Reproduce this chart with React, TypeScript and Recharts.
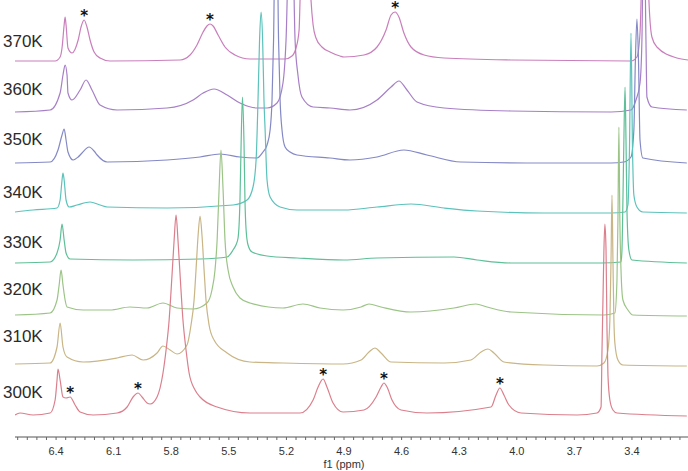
import React from 'react';
import { LineChart, Line, XAxis, YAxis, ReferenceDot } from 'recharts';

// stacked 1H NMR spectra, [ppm, intensity above own baseline]
const temps = ['370K', '360K', '350K', '340K', '330K', '320K', '310K', '300K'];
const baselines = [376, 325, 274, 225, 174, 122, 73, 22];
const colors = ['#c97fbc', '#a67fc6', '#8489c6', '#5cc2bb', '#5fbf98', '#9cc487', '#c9b585', '#db7f8c'];
const labelY = [47, 95, 145, 198, 248, 295, 342, 398];

const s370 = [
  [6.614, 0], [6.405, 0], [6.379, 4], [6.369, 13], [6.358, 36], [6.353, 44], [6.348, 36], [6.338, 13],
  [6.317, 8], [6.285, 21], [6.27, 34], [6.254, 41], [6.239, 34], [6.223, 21], [6.202, 9], [6.171, 3],
  [6.119, 0], [5.754, 1], [5.702, 6], [5.666, 16], [5.634, 29], [5.614, 35], [5.598, 37], [5.582, 35],
  [5.556, 26], [5.52, 14], [5.468, 6], [5.39, 2], [5.207, 2], [5.171, 5], [5.15, 13], [5.134, 31],
  [5.129, 61], [5.103, 261], [5.072, 61], [5.061, 36], [5.046, 23], [5.015, 14], [4.973, 9], [4.921, 5],
  [4.9, 4], [4.796, 6], [4.728, 14], [4.681, 31], [4.655, 46], [4.634, 49], [4.614, 44], [4.588, 28],
  [4.551, 14], [4.483, 6], [4.379, 3], [4.03, 1], [3.405, 0], [3.374, 4], [3.358, 28], [3.332, 211],
  [3.311, 58], [3.296, 24], [3.27, 14], [3.166, 3], [3.108, 1],
];
const s360 = [
  [6.614, 0], [6.431, 2], [6.379, 19], [6.364, 37], [6.353, 47], [6.343, 37], [6.338, 19], [6.317, 12],
  [6.275, 22], [6.244, 32], [6.213, 22], [6.171, 7], [6.082, 2], [5.822, 4], [5.686, 12], [5.634, 19],
  [5.577, 23], [5.509, 17], [5.442, 9], [5.353, 4], [5.301, 4], [5.249, 9], [5.218, 29], [5.202, 72],
  [5.176, 262], [5.155, 72], [5.14, 37], [5.119, 15], [5.061, 5], [4.973, 4], [4.869, 2], [4.728, 12],
  [4.655, 25], [4.614, 31], [4.572, 22], [4.52, 10], [4.379, 4], [4.03, 1], [3.509, 0], [3.405, 2],
  [3.379, 12], [3.358, 29], [3.348, 72], [3.338, 212], [3.327, 72], [3.322, 15], [3.296, 5], [3.114, 2],
];
const s350 = [
  [6.614, 0], [6.431, 1], [6.39, 13], [6.369, 28], [6.358, 34], [6.348, 23], [6.338, 11], [6.311, 3],
  [6.285, 6], [6.265, 10], [6.228, 16], [6.202, 12], [6.186, 8], [6.134, 1], [5.822, 3], [5.65, 6],
  [5.546, 9], [5.442, 6], [5.353, 5], [5.322, 11], [5.301, 18], [5.285, 33], [5.275, 63], [5.267, 123],
  [5.254, 313], [5.241, 123], [5.233, 63], [5.223, 33], [5.207, 16], [5.181, 11], [5.145, 8], [4.973, 5],
  [4.869, 3], [4.728, 6], [4.588, 13], [4.468, 8], [4.291, 1], [3.858, 0], [3.509, 0], [3.442, 1],
  [3.405, 6], [3.39, 33], [3.382, 103], [3.374, 144], [3.366, 103], [3.358, 23], [3.343, 5], [3.114, 0],
];
const s340 = [
  [6.614, 0], [6.52, 2], [6.395, 4], [6.379, 12], [6.369, 32], [6.364, 39], [6.358, 32], [6.348, 12],
  [6.332, 5], [6.291, 7], [6.223, 10], [6.171, 7], [6.134, 5], [5.822, 4], [5.478, 7], [5.405, 12],
  [5.374, 25], [5.358, 52], [5.348, 112], [5.34, 172], [5.332, 200], [5.324, 172], [5.317, 112], [5.311, 82],
  [5.301, 32], [5.285, 15], [5.233, 5], [5.145, 2], [4.9, 2], [4.728, 5], [4.551, 8], [4.379, 4],
  [4.207, 1], [3.858, -1], [3.509, -1], [3.436, 0], [3.421, 7], [3.413, 62], [3.405, 179], [3.397, 62],
  [3.39, 17], [3.374, 5], [3.343, 0], [3.114, -1],
];
const s330 = [
  [6.614, 0], [6.431, 1], [6.395, 10], [6.379, 23], [6.369, 39], [6.358, 23], [6.348, 10], [6.327, 4],
  [5.999, 3], [5.65, 4], [5.509, 6], [5.478, 13], [5.463, 18], [5.452, 25], [5.442, 63], [5.436, 120],
  [5.429, 166], [5.421, 120], [5.416, 63], [5.41, 33], [5.4, 18], [5.379, 11], [5.301, 7], [5.145, 5],
  [4.9, 3], [4.728, 5], [4.327, 6], [4.207, 3], [4.03, 0], [3.561, 0], [3.457, 1], [3.452, 13],
  [3.447, 63], [3.442, 123], [3.436, 176], [3.431, 123], [3.426, 53], [3.416, 13], [3.4, 3], [3.114, 0],
];
const s320 = [
  [6.614, 0], [6.431, 2], [6.395, 15], [6.384, 30], [6.374, 45], [6.364, 30], [6.353, 15], [6.343, 8],
  [6.259, 5], [6.119, 5], [6.015, 8], [5.926, 7], [5.843, 12], [5.77, 7], [5.686, 6], [5.614, 12],
  [5.588, 25], [5.572, 45], [5.561, 75], [5.551, 125], [5.541, 165], [5.53, 125], [5.52, 75], [5.504, 45],
  [5.478, 28], [5.442, 17], [5.39, 12], [5.218, 7], [5.114, 11], [5.025, 7], [4.905, 5], [4.811, 8],
  [4.77, 11], [4.707, 8], [4.551, 3], [4.327, 7], [4.213, 11], [4.155, 8], [4.03, 3], [3.546, 0],
  [3.489, 2], [3.478, 35], [3.473, 95], [3.468, 188], [3.463, 95], [3.457, 45], [3.447, 15], [3.421, 5],
  [3.395, 0], [3.114, -1],
];
const s310 = [
  [6.614, 0], [6.431, 1], [6.395, 17], [6.379, 41], [6.364, 17], [6.343, 7], [6.259, 2], [6.082, 6],
  [6.004, 9], [5.947, 4], [5.874, 11], [5.843, 18], [5.806, 14], [5.77, 10], [5.718, 19], [5.697, 39],
  [5.681, 64], [5.671, 94], [5.66, 129], [5.65, 148], [5.64, 129], [5.629, 94], [5.619, 64], [5.603, 39],
  [5.577, 24], [5.509, 11], [5.39, 2], [5.218, 1], [4.905, 0], [4.811, 4], [4.77, 12], [4.739, 16],
  [4.707, 11], [4.655, 2], [4.379, 1], [4.239, 4], [4.186, 12], [4.15, 15], [4.119, 11], [4.067, 2],
  [3.858, -1], [3.582, -2], [3.546, 1], [3.525, 14], [3.515, 44], [3.509, 104], [3.504, 169], [3.499, 104],
  [3.494, 44], [3.489, 21], [3.473, 4], [3.447, -1], [3.114, -2],
];
const s300 = [
  [6.614, 0], [6.588, 2], [6.52, 0], [6.431, 2], [6.405, 15], [6.395, 35], [6.39, 46], [6.379, 35],
  [6.364, 18], [6.348, 17], [6.327, 18], [6.301, 10], [6.275, 3], [6.207, 0], [6.082, 2], [6.03, 8],
  [5.999, 18], [5.973, 22], [5.952, 18], [5.926, 12], [5.91, 11], [5.874, 18], [5.843, 42], [5.827, 65],
  [5.811, 95], [5.796, 140], [5.785, 175], [5.775, 200], [5.765, 175], [5.754, 140], [5.739, 95], [5.723, 65],
  [5.707, 42], [5.676, 25], [5.65, 18], [5.561, 8], [5.39, 2], [5.129, 2], [5.061, 15], [5.035, 28],
  [5.009, 36], [4.989, 28], [4.957, 12], [4.905, 3], [4.796, 5], [4.733, 18], [4.707, 28], [4.692, 32],
  [4.676, 28], [4.65, 15], [4.603, 5], [4.468, 2], [4.134, 8], [4.108, 20], [4.088, 27], [4.067, 20],
  [4.041, 10], [3.978, 2], [3.686, 0], [3.582, 2], [3.561, 8], [3.556, 65], [3.551, 115], [3.546, 165],
  [3.541, 191], [3.535, 165], [3.53, 85], [3.525, 40], [3.515, 15], [3.499, 5], [3.478, 2], [3.114, -1],
];
const spectra = [s370, s360, s350, s340, s330, s320, s310, s300];

// starred peaks: [spectrum index, ppm, intensity]
const starred = [
  [0, 6.254, 41], [0, 5.598, 37], [0, 4.634, 49],
  [7, 6.327, 18], [7, 5.973, 22], [7, 5.009, 36], [7, 4.692, 32], [7, 4.088, 27],
];

const majorTicks = [6.4, 6.1, 5.8, 5.5, 5.2, 4.9, 4.6, 4.3, 4.0, 3.7, 3.4];
const axisTicks: number[] = [];
for (let t = 660; t >= 315; t -= 5) axisTicks.push(t / 100);

const W = 688;
const H = 471;

export default function App() {
  const series = spectra.map((s, i) => s.map(([x, v]) => ({ x, v: baselines[i] + v })));

  return (
    <div style={{ position: 'absolute', left: 0, top: 0, width: W, height: H, background: '#fff' }}>
      <LineChart width={W} height={H} margin={{ top: 0, right: 0, bottom: 0, left: 15 }}>
        <XAxis
          type="number"
          dataKey="x"
          domain={[3.108, 6.614]}
          reversed
          allowDataOverflow
          ticks={axisTicks}
          interval={0}
          height={34}
          tickSize={3}
          tickMargin={7}
          axisLine={{ stroke: '#555' }}
          tickLine={{ stroke: '#666' }}
          tick={{ fontSize: 11, fill: '#333', fontFamily: 'Liberation Sans, Arial, sans-serif' }}
          tickFormatter={(v: number) => {
            const r = Math.round(v * 100) / 100;
            return majorTicks.includes(r) ? r.toFixed(1) : '';
          }}
        />
        <YAxis hide type="number" domain={[0, 437]} allowDataOverflow />
        {series.map((d, i) => (
          <Line
            key={temps[i]}
            data={d}
            dataKey="v"
            type="monotoneX"
            stroke={colors[i]}
            strokeWidth={1.2}
            dot={false}
            activeDot={false}
            isAnimationActive={false}
          />
        ))}
        {starred.map(([si, x, v], k) => (
          <ReferenceDot
            key={k}
            x={x}
            y={baselines[si] + v}
            r={0}
            ifOverflow="visible"
            shape={(p: any) => (
              <text
                x={p.cx}
                y={p.cy + 0.5}
                textAnchor="middle"
                fontSize={15}
                fontWeight="bold"
                fill="#111"
                fontFamily="DejaVu Sans, sans-serif"
              >
                *
              </text>
            )}
          />
        ))}
      </LineChart>
      <svg
        width={W}
        height={H}
        style={{ position: 'absolute', left: 0, top: 0, pointerEvents: 'none' }}
      >
        {temps.map((t, i) => (
          <text
            key={t}
            x={3}
            y={labelY[i]}
            fontSize={17}
            fill="#2b2b2b"
            fontFamily="Liberation Sans, Arial, sans-serif"
          >
            {t}
          </text>
        ))}
        <text
          x={344}
          y={468}
          textAnchor="middle"
          fontSize={11}
          fill="#333"
          fontFamily="Liberation Sans, Arial, sans-serif"
        >
          f1 (ppm)
        </text>
      </svg>
    </div>
  );
}
